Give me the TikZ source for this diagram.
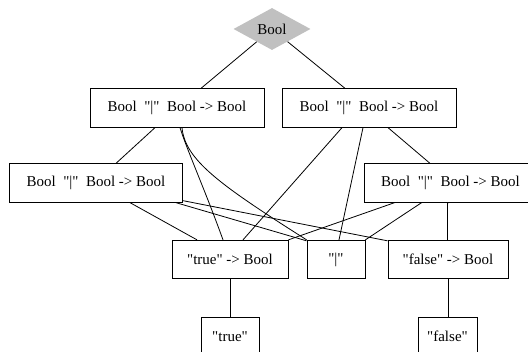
\documentclass[tikz,border=0pt]{standalone}
\usepackage{fontspec}
\newfontfamily\gvfont{Liberation Serif}[Ligatures=TeXOff]
\usetikzlibrary{shapes.geometric}
\begin{document}
\begin{tikzpicture}[x=1pt,y=-1pt,
  lbl/.style={font=\gvfont\fontsize{15}{17}\selectfont},
  box/.style={lbl,draw,rectangle,inner sep=0pt,minimum height=38.5pt,line width=0.8pt},
  topnode/.style={lbl,diamond,fill={rgb,255:red,192;green,192;blue,192},inner sep=0pt,minimum width=77pt,minimum height=42pt,aspect=1.83},
  edge/.style={line width=0.8pt,black}]
\useasboundingbox (0,0) rectangle (528,352);
\clip (0,0) rectangle (528,352);
\node[topnode] (bool) at (272,29) {Bool};
\node[box,minimum width=174pt] (l1a) at (177,108) {Bool\ \ "|"\ \ Bool -> Bool};
\node[box,minimum width=174pt] (l1b) at (369,108) {Bool\ \ "|"\ \ Bool -> Bool};
\node[box,minimum width=173pt] (l2a) at (96,183) {Bool\ \ "|"\ \ Bool -> Bool};
\node[box,minimum width=173pt] (l2b) at (450.5,183) {Bool\ \ "|"\ \ Bool -> Bool};
\node[box,minimum width=116pt] (tb) at (230,259.5) {"true" -> Bool};
\node[box,minimum width=58pt] (bar) at (336,259.5) {"|"};
\node[box,minimum width=120pt] (fb) at (448,259.5) {"false" -> Bool};
\node[box,minimum width=58pt] (t) at (230,336.5) {"true"};
\node[box,minimum width=59pt] (f) at (447.5,336.5) {"false"};
% edges
\draw[edge] (bool) -- ([xshift=24pt]l1a.north);
\draw[edge] (bool) -- ([xshift=-24pt]l1b.north);
\draw[edge] ([xshift=-22pt]l1a.south) -- ([xshift=20pt]l2a.north);
\draw[edge] ([xshift=3pt]l1a.south) .. controls (187,150) and (205,190) .. ([xshift=-7pt]tb.north);
\draw[edge] ([xshift=5pt]l1a.south) .. controls (185,160) and (220,185) .. (bar.north west);
\draw[edge] ([xshift=-27pt]l1b.south) -- ([xshift=13pt]tb.north);
\draw[edge] ([xshift=-6pt]l1b.south) -- ([xshift=3pt]bar.north);
\draw[edge] ([xshift=19pt]l1b.south) -- ([xshift=-20.5pt]l2b.north);
\draw[edge] ([xshift=34pt]l2a.south) -- ([xshift=-33pt]tb.north);
\draw[edge] ([xshift=-7pt]l2a.south east) -- ([yshift=-1pt]bar.north west);
\draw[edge] ([yshift=2pt]l2a.south east) -- ([yshift=-1pt]fb.north west);
\draw[edge] ([xshift=31pt]l2b.south west) -- (tb.north east);
\draw[edge] ([xshift=58pt]l2b.south west) -- (bar.north east);
\draw[edge] ([xshift=84pt]l2b.south west) -- ([xshift=-0.5pt]fb.north);
\draw[edge] (tb) -- (t);
\draw[edge] (fb.south) -- (f.north -| fb.south);
\end{tikzpicture}
\end{document}
